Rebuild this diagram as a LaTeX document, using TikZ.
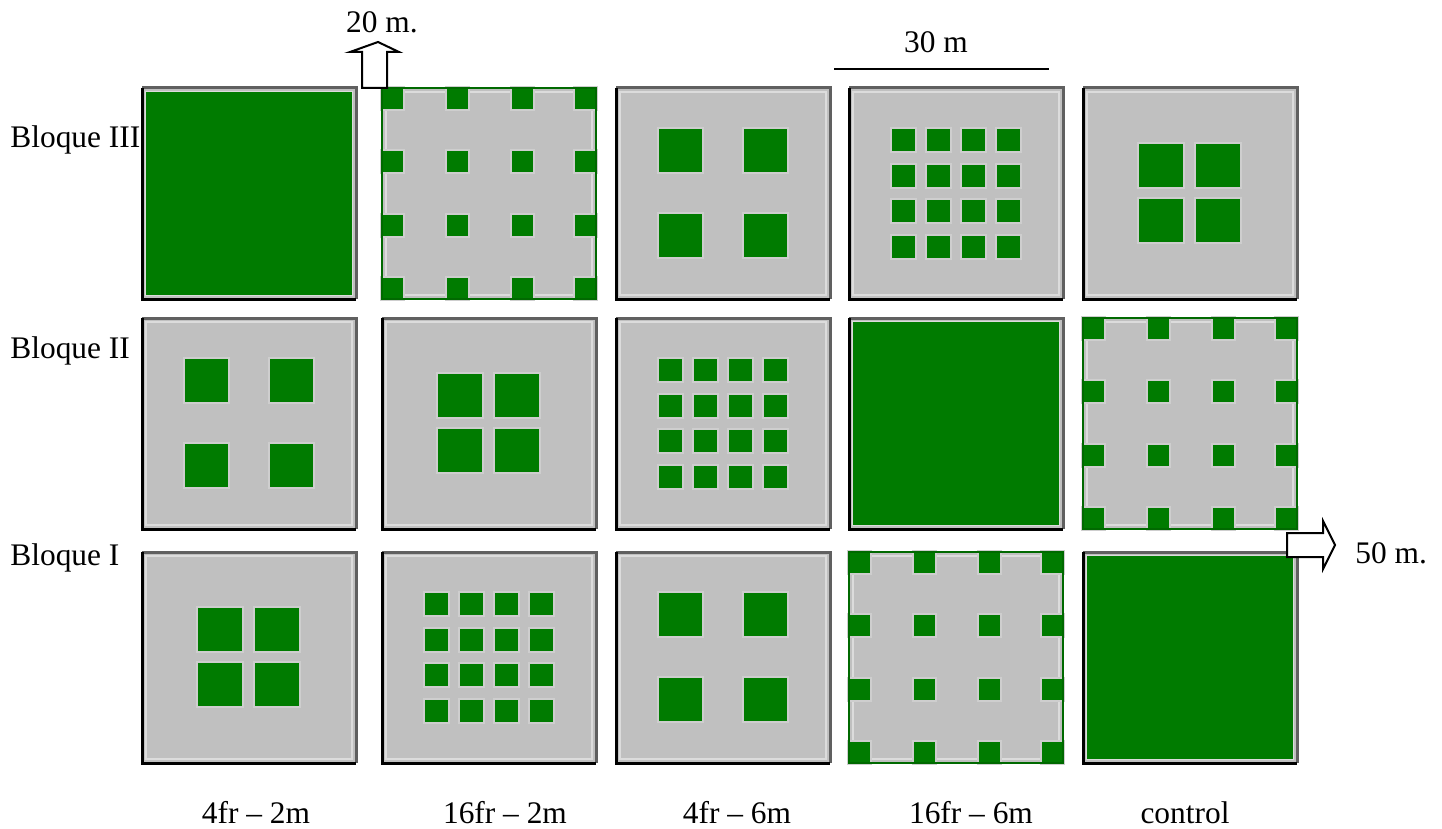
\documentclass[tikz,border=0pt]{standalone}
\usepackage{fontspec}
\setmainfont{Liberation Serif}
\definecolor{plotgreen}{RGB}{0,123,0}
\definecolor{plotgray}{RGB}{192,192,192}
\definecolor{edgegray}{RGB}{96,96,96}
\definecolor{lightedge}{RGB}{220,220,220}
\definecolor{halo}{RGB}{206,206,206}
\tikzset{
  lbl/.style={font=\fontsize{15.7}{18}\selectfont, inner sep=0pt},
  blockarrow/.style={draw=black, fill=white, line width=1pt, line join=miter},
  gsq/.style={fill=plotgreen},
  hsq/.style={fill=halo},
  plotbox/.pic={
    \fill[plotgray] (0,0) rectangle (214,211);
    \draw[lightedge, line width=1.2pt] (4,4) rectangle (210,207);
    \draw[edgegray, line width=1.5pt] (0,0) -- (214,0) -- (214,211);
    \draw[black, line width=1.5pt] (0,0) -- (0,211) -- (214,211);
  },
  patA/.pic={
    \pic {plotbox};
    \fill[plotgreen] (4,4) rectangle (210,207);
  },
  patB/.pic={
    \pic {plotbox};
    \foreach \px in {43,128}{\foreach \py in {41,126}{
      \fill[hsq] (\px-2,\py-2) rectangle ++(47,47);
      \fill[gsq] (\px,\py) rectangle ++(43,43);}}
  },
  patC/.pic={
    \pic {plotbox};
    \foreach \px in {56,113}{\foreach \py in {56,111}{
      \fill[hsq] (\px-2,\py-2) rectangle ++(48,47);
      \fill[gsq] (\px,\py) rectangle ++(44,43);}}
  },
  patD/.pic={
    \pic {plotbox};
    \foreach \px in {43,78,113,148}{\foreach \py in {41,77,112,148}{
      \fill[hsq] (\px-2,\py-2) rectangle ++(27,26);
      \fill[gsq] (\px,\py) rectangle ++(23,22);}}
  },
  patE/.pic={
    \fill[plotgray] (0,0) rectangle (214,211);
    \draw[lightedge, line width=1.2pt] (4,4) rectangle (210,207);
    \foreach \px in {0,65,130,193}{\foreach \py in {0,63,127,190}{
      \fill[hsq] (\px-2,\py-2) rectangle ++(25,25);}}
    \foreach \px in {0,65,130,193}{\foreach \py in {0,63,127,190}{
      \fill[gsq] (\px,\py) rectangle ++(21,21);}}
    \draw[plotgreen!85!black, line width=1pt] (0,0) rectangle (214,211);
  }
}
\begin{document}
\begin{tikzpicture}[x=0.5pt,y=-0.5pt]
\useasboundingbox (0,0) rectangle (1442,829);
\fill[white] (0,0) rectangle (1442,829);

% Bloque III
\pic (p31) at (142,88) {patA};
\pic (p32) at (382,88) {patE};
\pic (p33) at (616,88) {patB};
\pic (p34) at (849,88) {patD};
\pic (p35) at (1083,88) {patC};
% Bloque II
\pic (p21) at (142,318) {patB};
\pic (p22) at (382,318) {patC};
\pic (p23) at (616,318) {patD};
\pic (p24) at (849,318) {patA};
\pic (p25) at (1083,318) {patE};
% Bloque I
\pic (p11) at (142,552) {patC};
\pic (p12) at (382,552) {patD};
\pic (p13) at (616,552) {patB};
\pic (p14) at (849,552) {patE};
\pic (p15) at (1083,552) {patA};

% row labels
\node[lbl, anchor=base west] (b3) at (10,148) {Bloque III};
\node[lbl, anchor=base west] (b2) at (10,358) {Bloque II};
\node[lbl, anchor=base west] (b1) at (10,565) {Bloque I};

% column labels
\node[lbl, anchor=base] (c1) at (256,823) {4fr – 2m};
\node[lbl, anchor=base] (c2) at (505,823) {16fr – 2m};
\node[lbl, anchor=base] (c3) at (737,823) {4fr – 6m};
\node[lbl, anchor=base] (c4) at (971,823) {16fr – 6m};
\node[lbl, anchor=base] (c5) at (1185,823) {control};

% up arrow 20 m.
\draw[blockarrow] (362,88) -- (362,52) -- (350,52) -- (378,42) -- (399,52) -- (387,52) -- (387,88) -- cycle;
\node[lbl, anchor=base] (t20) at (382,33) {20 m.};

% right arrow 50 m.
\draw[blockarrow] (1287,533) -- (1323,533) -- (1323,521) -- (1335,545) -- (1323,569) -- (1323,557) -- (1287,557) -- cycle;
\node[lbl, anchor=base west] (t50) at (1355,563) {50 m.};

% 30 m scale bar
\coordinate (s1) at (834,69);
\coordinate (s2) at (1049,69);
\draw[black, line width=1pt] (s1) -- (s2);
\node[lbl, anchor=base] (t30) at (936,53) {30 m};
\end{tikzpicture}
\end{document}
